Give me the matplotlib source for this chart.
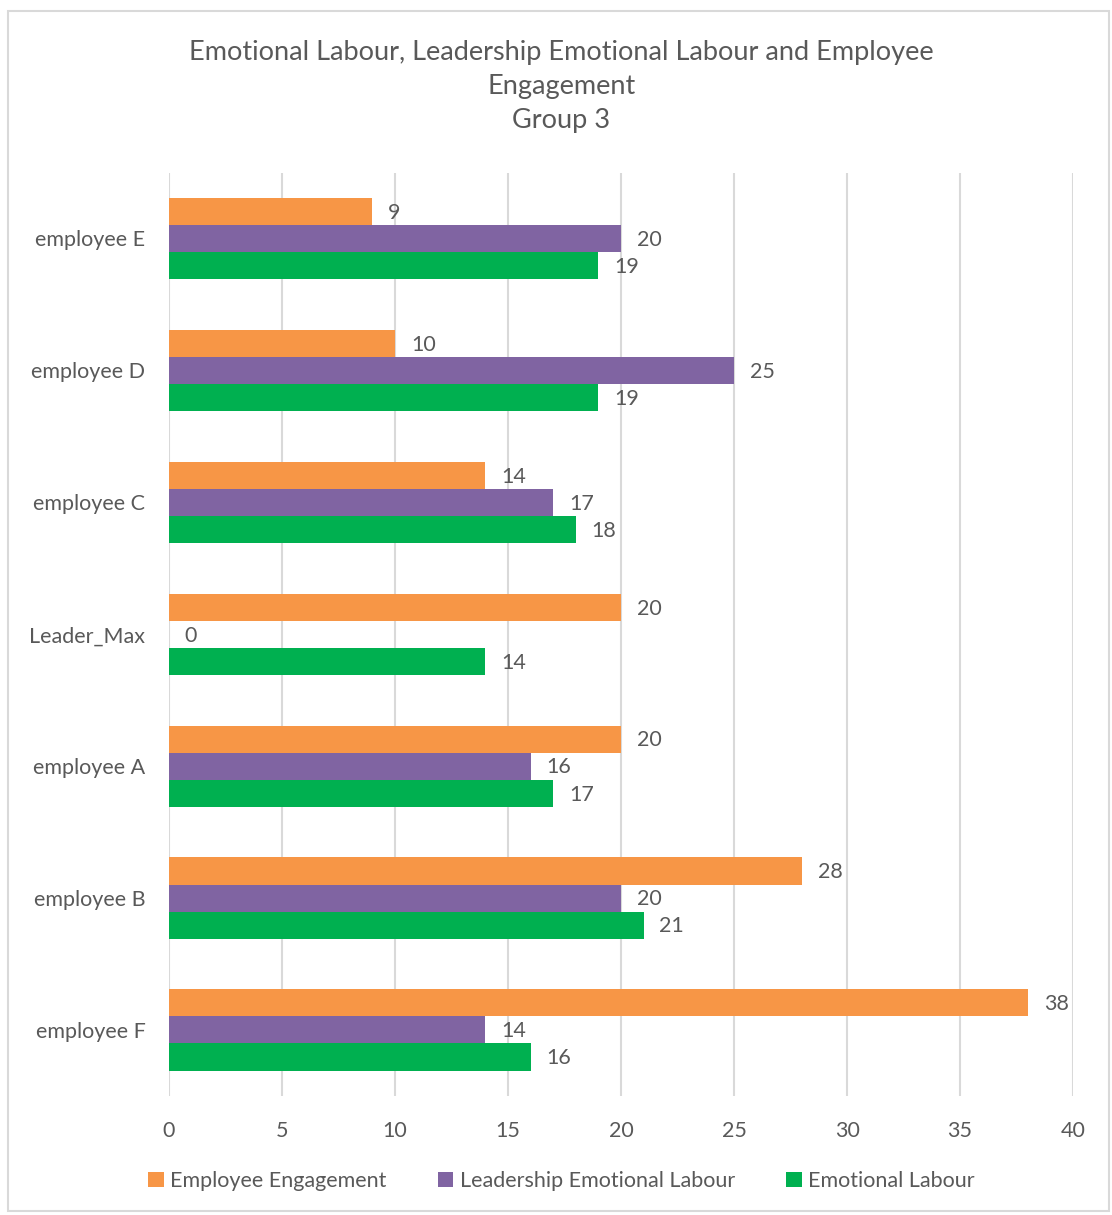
import numpy as np
import matplotlib.pyplot as plt
from matplotlib.patches import Rectangle

plt.rcParams['font.family'] = ['Lato', 'DejaVu Sans']

categories = ["employee E", "employee D", "employee C", "Leader_Max",
              "employee A", "employee B", "employee F"]
engagement = [9, 10, 14, 20, 20, 28, 38]
leadership = [20, 25, 17, 0, 16, 20, 14]
emotional = [19, 19, 18, 14, 17, 21, 16]

series = [("Employee Engagement", engagement, "#F79646"),
          ("Leadership Emotional Labour", leadership, "#8064A2"),
          ("Emotional Labour", emotional, "#00B050")]

txt = "#595959"
fig = plt.figure(figsize=(11.12, 12.15), dpi=100)
ax = fig.add_axes([0.152, 0.098, 0.813, 0.760])

# chart border
fig.patches.append(Rectangle((0.007, 0.003), 0.99, 0.988, transform=fig.transFigure,
                             fill=False, edgecolor="#D9D9D9", linewidth=1.5))

n = len(categories)
y = np.arange(n)
h = 0.205
offsets = [-h, 0, h]
for (name, vals, col), off in zip(series, offsets):
    bars = ax.barh(y + off, vals, height=h, color=col, label=name, zorder=3)
    for yy, v in zip(y + off, vals):
        ax.text(v + 0.7, yy + 0.01, str(v), va="center", ha="left", fontsize=15.5, color=txt)

ax.set_ylim(n - 0.5, -0.5)
ax.set_xlim(0, 40)
ax.set_xticks(range(0, 41, 5))
ax.set_yticks(y)
ax.set_yticklabels(categories)
ax.tick_params(axis="both", length=0, labelsize=15.5, colors=txt)
ax.tick_params(axis="x", pad=18)
ax.tick_params(axis="y", pad=17)
ax.grid(axis="x", color="#D9D9D9", linewidth=1.5, zorder=0)
for s in ax.spines.values():
    s.set_visible(False)

fig.text(0.505, 0.929, "Emotional Labour, Leadership Emotional Labour and Employee\nEngagement\nGroup 3",
         ha="center", va="center", fontsize=19.5, color=txt, linespacing=1.45)

fig.legend(loc="center", bbox_to_anchor=(0.505, 0.028), ncol=3, frameon=False,
           fontsize=15.5, labelcolor=txt, handlelength=0.7, handleheight=0.7,
           handletextpad=0.3, columnspacing=2.4)

fig.savefig("out.png", dpi=100)
